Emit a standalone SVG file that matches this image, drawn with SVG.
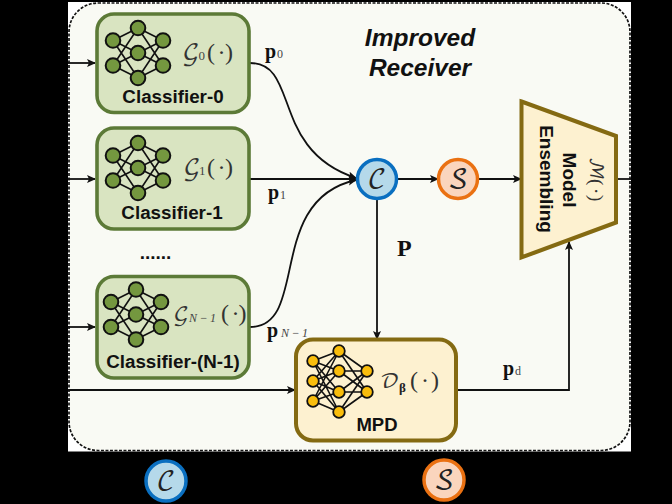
<svg xmlns="http://www.w3.org/2000/svg" xmlns:xlink="http://www.w3.org/1999/xlink" width="672" height="504" viewBox="0 0 672 504">
<style>
text{font-family:"Liberation Sans",Arial,sans-serif;fill:#111}
.lbl{font-weight:700;font-size:18.800px;text-anchor:middle}
.box{stroke-width:3.600}
.gbox{fill:#d9e4c1;stroke:#5c7a37}
.ybox{fill:#fdf1d0;stroke:#846a12;stroke-width:4}
.m{font-family:"DejaVu Math TeX Gyre","Latin Modern Math","DejaVu Serif","Liberation Serif",serif;fill:#333;font-size:23px}
.c{font-family:"DejaVu Math TeX Gyre","Latin Modern Math","DejaVu Serif",serif;fill:#222;font-size:26px;text-anchor:middle}
.r{font-family:"Liberation Serif",serif;fill:#333;font-size:24px}
.b{font-family:"Liberation Serif",serif;font-weight:700;font-size:20px;fill:#111}
.sub{font-family:"Liberation Serif",serif;font-size:12px;font-weight:400;fill:#444}
.subm{font-family:"Liberation Serif",serif;font-size:12px;font-style:italic;font-weight:400;fill:#444;letter-spacing:2.500px}
.conn{fill:none;stroke:#111;stroke-width:1.800}
.gn{fill:#74973f;stroke:#111;stroke-width:2}
.yn{fill:#f9bd0c;stroke:#111;stroke-width:1.800}
.e{stroke:#111;stroke-width:1.600;fill:none}
</style>
<defs>
<marker id="a" markerWidth="10" markerHeight="8" refX="8" refY="4" orient="auto" markerUnits="userSpaceOnUse"><path d="M0 0L9 4L0 8L2 4Z" fill="#111"/></marker>
<g id="netG">
<path class="e" d="M-25-12.500L0-25M-25-12.500L0 0M-25-12.500L0 25M-25 12.500L0-25M-25 12.500L0 0M-25 12.500L0 25M25-12.500L0-25M25-12.500L0 0M25-12.500L0 25M25 12.500L0-25M25 12.500L0 0M25 12.500L0 25"/>
<circle class="gn" cx="-25" cy="-12.500" r="7.300"/><circle class="gn" cx="-25" cy="12.500" r="7.300"/>
<circle class="gn" cx="0" cy="-25" r="7.300"/><circle class="gn" cx="0" cy="0" r="7.300"/><circle class="gn" cx="0" cy="25" r="7.300"/>
<circle class="gn" cx="25" cy="-12.500" r="7.300"/><circle class="gn" cx="25" cy="12.500" r="7.300"/>
</g>
</defs>
<rect x="0" y="0" width="672" height="504" fill="#000"/>
<rect id="bg" x="68" y="2" width="563" height="449.500" fill="#fff"/>
<g id="panel"><rect x="69" y="3" width="561" height="447.500" rx="29" fill="#f9faf4" stroke="#111" stroke-width="1.700" stroke-dasharray="3 1.500"/>
<text x="420" y="46" font-size="24.500" font-weight="700" font-style="italic" text-anchor="middle">Improved</text>
<text x="420" y="76" font-size="24.500" font-weight="700" font-style="italic" text-anchor="middle">Receiver</text></g>
<g id="connectors">
<path class="conn" marker-end="url(#a)" d="M68 63H95"/>
<path class="conn" marker-end="url(#a)" d="M68 179H95"/>
<path class="conn" marker-end="url(#a)" d="M68 327H95"/>
<path class="conn" marker-end="url(#a)" d="M68 390H295"/>
<path class="conn" marker-end="url(#a)" d="M250 63C300 63 270 150 356 178"/>
<path class="conn" marker-end="url(#a)" d="M250 179H356"/>
<path class="conn" marker-end="url(#a)" d="M250 327C310 327 265 200 356 180"/>
<path class="conn" marker-end="url(#a)" d="M397 179H438"/>
<path class="conn" marker-end="url(#a)" d="M479 179H521"/>
<path class="conn" d="M616 179H631"/>
<path class="conn" marker-end="url(#a)" d="M377 200V339"/>
<path class="conn" marker-end="url(#a)" d="M458 390H569V242"/>
</g>
<g id="classifier0"><rect class="box gbox" x="97" y="14" width="152" height="98.500" rx="17"/><use xlink:href="#netG" x="138" y="53"/>
<text class="m" x="182" y="60">𝒢</text><text class="sub" x="198.500" y="60" style="font-size:13px">0</text><text class="r" x="207 217.500 225" y="60">(·)</text>
<text class="lbl" x="173" y="103">Classifier-0</text></g>
<g id="classifier1"><rect class="box gbox" x="97" y="128" width="152" height="101" rx="17"/><use xlink:href="#netG" x="138" y="168"/>
<text class="m" x="183" y="175">𝒢</text><text class="sub" x="199" y="175" style="font-size:13px">1</text><text class="r" x="207 217.500 225" y="175">(·)</text>
<text class="lbl" x="172" y="219">Classifier-1</text></g>
<g id="classifierN"><rect class="box gbox" x="97" y="276.500" width="152" height="101.500" rx="17"/><use xlink:href="#netG" x="136" y="314.500"/>
<text class="m" x="173" y="321" style="font-size:21px">𝒢</text><text class="subm" x="189" y="322">N−1</text><text class="r" x="221 231.500 238.500" y="321">(·)</text>
<text class="lbl" x="173" y="368">Classifier-(N-1)</text></g>
<text x="155.500" y="259" font-size="19" font-weight="700" text-anchor="middle">......</text>
<g id="mpd"><rect class="box ybox" x="296" y="339.500" width="160" height="101" rx="17"/>
<path class="e" d="M313 361L339 351M313 361L339 371M313 361L339 392M313 361L339 412M313 381L339 351M313 381L339 371M313 381L339 392M313 381L339 412M313 401L339 351M313 401L339 371M313 401L339 392M313 401L339 412M339 351L367 371M339 371L367 371M339 392L367 371M339 412L367 371M339 351L367 392M339 371L367 392M339 392L367 392M339 412L367 392"/>
<circle class="yn" cx="313" cy="361" r="5.800"/><circle class="yn" cx="313" cy="381" r="5.800"/><circle class="yn" cx="313" cy="401" r="5.800"/>
<circle class="yn" cx="339" cy="351" r="5.800"/><circle class="yn" cx="339" cy="371" r="5.800"/><circle class="yn" cx="339" cy="392" r="5.800"/><circle class="yn" cx="339" cy="412" r="5.800"/>
<circle class="yn" cx="367" cy="371" r="5.800"/><circle class="yn" cx="367" cy="392" r="5.800"/>
<text class="m" x="380" y="388" style="font-size:21px">𝒟</text><text class="sub" x="399" y="392" style="font-weight:700;font-size:13px;fill:#222">β</text><text class="r" x="410 421 431" y="388">(·)</text>
<text class="lbl" x="377" y="431" style="font-size:18.500px">MPD</text></g>
<g id="combine"><circle cx="377" cy="179" r="19.500" fill="#b5d9ea" stroke="#0a6fc0" stroke-width="3.500"/><text class="c" x="377" y="188">𝒞</text></g>
<g id="softmax"><circle cx="458" cy="179" r="19.500" fill="#fad5bd" stroke="#ea7112" stroke-width="3.500"/><text class="c" x="458" y="188">𝒮</text></g>
<g id="ensembling"><path d="M521.500 101.500L616 136V222.500L521.500 257.500Z" fill="#fdf1d0" stroke="#846a12" stroke-width="4"/>
<text font-size="19" font-weight="700" text-anchor="middle" transform="translate(540,179) rotate(90)">Ensembling</text>
<text font-size="19" font-weight="700" text-anchor="middle" transform="translate(563,180) rotate(90)">Model</text>
<text class="m" style="font-size:18px" transform="translate(590,157) rotate(90)">ℳ</text>
<text class="r" style="font-size:19px" transform="translate(590,179) rotate(90)" x="0 9 16" y="0">(·)</text></g>
<g id="labels">
<text class="b" x="265" y="58">p</text><text class="sub" x="277" y="58">0</text>
<text class="b" x="268" y="199">p</text><text class="sub" x="280" y="199">1</text>
<text class="b" x="267" y="337">p</text><text class="subm" x="281" y="337">N−1</text>
<text class="b" x="503" y="375">p</text><text class="sub" x="515" y="375">d</text>
<text class="b" x="397" y="256" style="font-size:24px">P</text>
</g>
<g id="legendC"><circle cx="166" cy="481" r="20" fill="#b5d9ea" stroke="#0a6fc0" stroke-width="3.500"/><text class="c" x="166" y="490">𝒞</text></g>
<g id="legendS"><circle cx="444" cy="480" r="20" fill="#fad5bd" stroke="#ea7112" stroke-width="3.500"/><text class="c" x="444" y="489">𝒮</text></g>
</svg>
